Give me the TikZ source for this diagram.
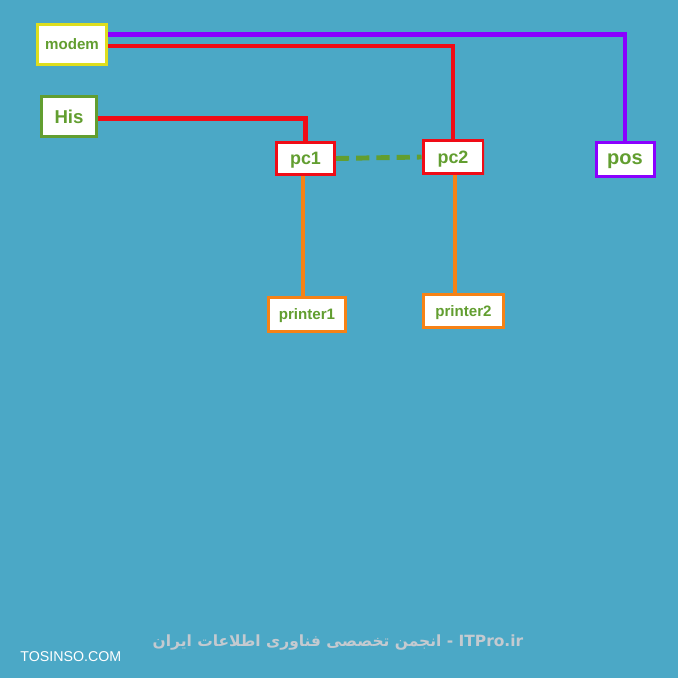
\documentclass[tikz,border=0pt]{standalone}
\usepackage{fontspec}
\setmainfont{Liberation Sans}
\newfontfamily\farsifont[Script=Arabic]{DejaVu Sans}
\TeXXeTstate=1
\usetikzlibrary{calc,shadows}

\definecolor{bgblue}{RGB}{75,168,198}
\definecolor{lblgreen}{RGB}{98,158,48}
\definecolor{wireRed}{RGB}{240,12,22}
\definecolor{wirePurple}{RGB}{138,0,255}
\definecolor{wireOrange}{RGB}{246,130,22}
\definecolor{boxYellow}{RGB}{222,222,30}
\definecolor{footGray}{RGB}{196,202,208}

\tikzset{
  box/.style={draw, line width=1.7pt, fill=white, inner sep=0pt,
    text depth=0pt, font=\bfseries, text=lblgreen,
    drop shadow={shadow xshift=1pt, shadow yshift=-1pt, opacity=0.35}},
  redwire/.style={wireRed, line width=2.3pt},
  purplewire/.style={wirePurple, line width=2.3pt},
  orangewire/.style={wireOrange, line width=2pt},
}

\begin{document}
\begin{tikzpicture}[x=0.02cm,y=-0.02cm]
\fill[bgblue] (0,0) rectangle (678,678);
\useasboundingbox (0,0) rectangle (678,678);

\node[box, draw=boxYellow, minimum width=1.38cm, minimum height=0.80cm, font=\bfseries\fontsize{8.6}{10}\selectfont] (modem) at (72,44.5) {modem};
\node[box, draw=lblgreen, minimum width=1.10cm, minimum height=0.80cm, font=\bfseries\fontsize{10.6}{12}\selectfont] (his) at (69,116.5) {His};
\node[box, draw=wireRed, minimum width=1.16cm, minimum height=0.64cm, font=\bfseries\fontsize{10.2}{12}\selectfont] (pc1) at (305.5,158.5) {pc1};
\node[box, draw=wireRed, minimum width=1.20cm, minimum height=0.66cm, font=\bfseries\fontsize{10.2}{12}\selectfont] (pc2) at (453,157) {pc2};
\node[box, draw=wirePurple, minimum width=1.16cm, minimum height=0.68cm, font=\bfseries\fontsize{11.4}{13}\selectfont] (pos) at (625,159.5) {pos};
\node[box, draw=wireOrange, minimum width=1.54cm, minimum height=0.68cm, font=\bfseries\fontsize{8.6}{10}\selectfont] (printer1) at (307,314.5) {printer1};
\node[box, draw=wireOrange, minimum width=1.60cm, minimum height=0.66cm, font=\bfseries\fontsize{8.6}{10}\selectfont] (printer2) at (463.5,311) {printer2};

% links
\draw[purplewire] ($(modem.east)+(0,-10)$) -| (pos.north);
\draw[redwire] ($(modem.east)+(0,1.5)$) -| (pc2.north);
\draw[redwire] ($(his.east)+(0,2)$) -| (pc1.north);
\draw[lblgreen, line width=2.8pt, dash pattern=on 7.5pt off 4pt] (pc1.east) -- (pc2.west);
\draw[orangewire] ($(pc1.south)+(-2.5,0)$) -- ($(pc1.south |- printer1.north)+(-2.5,0)$);
\draw[orangewire] ($(pc2.south)+(2,0)$) -- ($(pc2.south |- printer2.north)+(2,0)$);

% footer
\node[text=footGray, font=\farsifont\bfseries\fontsize{8.8}{11}\selectfont] (itpro) at (338,643)
  {\beginR\beginL ITPro.ir\endL{} - انجمن تخصصی فناوری اطلاعات ایران\endR};
\node[text=white, anchor=west, inner sep=0pt, font=\fontsize{8.1}{10}\selectfont] (tosinso) at (20,657) {TOSINSO.COM};
\end{tikzpicture}
\end{document}
